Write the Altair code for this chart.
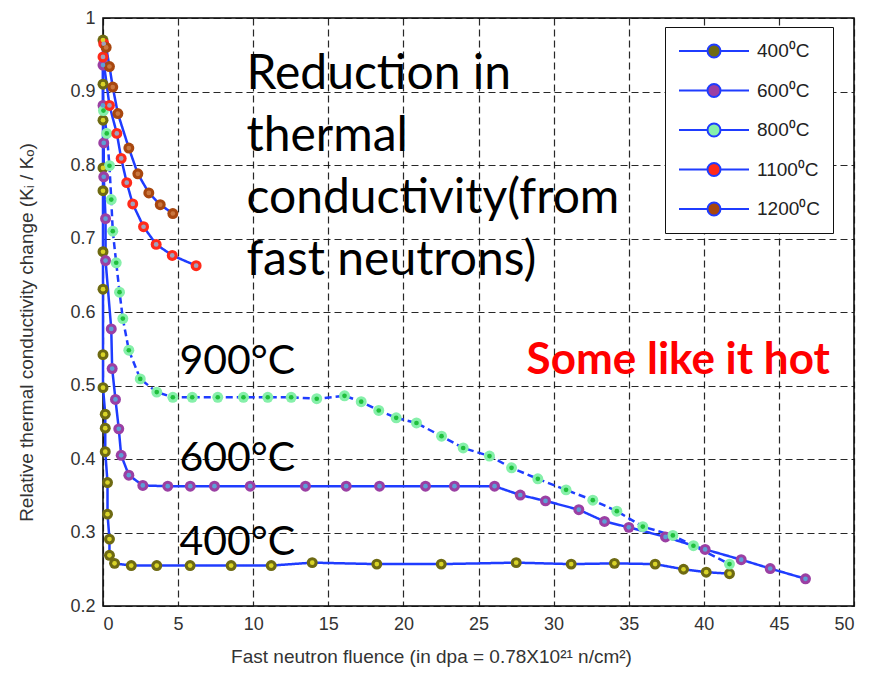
import altair as alt
import pandas as pd

# ---------------- data ----------------
series_names = ["400⁰C", "600⁰C", "800⁰C", "1100⁰C", "1200⁰C"]

s400_x = [0.0, 0.0, 0.0, 0.0, 0.0, 0.0, 0.0, 0.0, 0.0, 0.15, 0.15, 0.15, 0.3, 0.3, 0.43, 0.43, 0.77,
          1.88, 3.58, 5.80, 8.53, 11.20, 13.93, 18.23, 22.52, 27.51, 31.17, 34.05, 36.76, 38.65, 40.16, 41.71]
s400_y = [0.970, 0.910, 0.861, 0.796, 0.765, 0.682, 0.631, 0.542, 0.497, 0.461, 0.442, 0.410, 0.368, 0.325,
          0.291, 0.269, 0.258, 0.255, 0.255, 0.255, 0.255, 0.255, 0.259, 0.257, 0.257, 0.259, 0.257, 0.258,
          0.257, 0.250, 0.246, 0.244]

s600_x = [0.0, 0.0, 0.05, 0.05, 0.17, 0.17, 0.55, 0.61, 0.83, 1.05, 1.21, 1.72, 2.65, 4.31, 5.81, 7.42,
          9.80, 13.48, 16.19, 18.41, 21.47, 23.40, 26.07, 27.78, 29.46, 31.68, 33.39, 35.01, 37.45, 40.09,
          42.49, 44.42, 46.77]
s600_y = [0.936, 0.881, 0.830, 0.784, 0.727, 0.670, 0.577, 0.523, 0.481, 0.441, 0.405, 0.378, 0.364, 0.363,
          0.363, 0.363, 0.363, 0.363, 0.363, 0.363, 0.363, 0.363, 0.363, 0.351, 0.343, 0.331, 0.315, 0.307,
          0.294, 0.277, 0.263, 0.251, 0.237]

s800_x = [0.03, 0.25, 0.43, 0.55, 0.65, 0.88, 1.10, 1.32, 1.72, 2.48, 3.58, 4.65, 5.94, 7.64, 9.35, 10.97,
          12.53, 14.23, 16.08, 17.19, 18.36, 19.52, 20.87, 22.54, 23.98, 25.73, 27.20, 28.95, 30.83, 32.61,
          34.21, 35.94, 37.94, 39.31, 41.71]
s800_y = [0.874, 0.843, 0.799, 0.753, 0.710, 0.667, 0.627, 0.591, 0.548, 0.509, 0.491, 0.484, 0.484, 0.484,
          0.484, 0.484, 0.484, 0.482, 0.486, 0.478, 0.466, 0.456, 0.449, 0.431, 0.415, 0.404, 0.388, 0.373,
          0.358, 0.344, 0.329, 0.308, 0.296, 0.282, 0.257]

s1100_x = [0.05, 0.0, 0.43, 0.92, 1.21, 1.58, 1.98, 2.70, 3.54, 4.61, 6.20]
s1100_y = [0.965, 0.947, 0.881, 0.843, 0.809, 0.776, 0.747, 0.716, 0.692, 0.677, 0.663]

s1200_x = [0.21, 0.43, 0.65, 0.99, 1.72, 2.32, 3.05, 3.81, 4.65]
s1200_y = [0.960, 0.934, 0.906, 0.870, 0.823, 0.788, 0.762, 0.746, 0.734]

edge_colors = ["#6e6a12", "#9b3fa3", "#86f0aa", "#ff2a1a", "#a8470f"]
center_colors = ["#d9d428", "#5c9fd6", "#1fbf3c", "#9fa2bd", "#c9773f"]
dashes = [[1, 0], [1, 0], [7, 4], [1, 0], [1, 0]]

x_ticks = [0, 5, 10, 15, 20, 25, 30, 35, 40, 45, 50]
y_ticks = [0.2, 0.3, 0.4, 0.5, 0.6, 0.7, 0.8, 0.9, 1.0]

rows = []
for name, xs, ys in zip(series_names,
                        [s400_x, s600_x, s800_x, s1100_x, s1200_x],
                        [s400_y, s600_y, s800_y, s1100_y, s1200_y]):
    for i, (xv, yv) in enumerate(zip(xs, ys)):
        rows.append({"series": name, "x": xv, "y": yv, "order": i})
df = pd.DataFrame(rows)

big_note = pd.DataFrame({"x": [9.55], "y": [0.904],
                         "text": ["Reduction in\nthermal\nconductivity(from\nfast neutrons)"]})
temp_notes = pd.DataFrame({"x": [5.09, 5.09, 5.09], "y": [0.516, 0.384, 0.269],
                           "text": ["900°C", "600°C", "400°C"]})
hot = pd.DataFrame({"x": [28.2], "y": [0.516], "text": ["Some like it hot"]})

BLUE = "#1f3cff"

xenc = alt.X("x:Q", scale=alt.Scale(domain=[0, 50], nice=False),
             axis=alt.Axis(values=x_ticks, title="Fast neutron fluence (in dpa = 0.78X10²¹ n/cm²)",
                           titleX=328, titleY=56, titleBaseline="alphabetic", titleAlign="center",
                           labelPadding=9, format="d"))
yenc = alt.Y("y:Q", scale=alt.Scale(domain=[0.2, 1.0], nice=False),
             axis=alt.Axis(values=y_ticks, title="Relative thermal conductivity change (Kᵢ / Kₒ)",
                           titleX=-77, titleY=314, titleBaseline="middle", titleAlign="center",
                           labelPadding=8,
                           labelExpr="datum.value == 1 ? '1' : format(datum.value, '.1f')"))

lines = alt.Chart(df).mark_line(color=BLUE, strokeWidth=2.5).encode(
    x=xenc, y=yenc, detail="series:N", order="order:Q",
    strokeDash=alt.StrokeDash("series:N", scale=alt.Scale(domain=series_names, range=dashes), legend=None),
)

legend_path = "M-1,0H1.85M3.15,0H6M1.85,0A0.65,0.65 0 1,1 3.15,0A0.65,0.65 0 1,1 1.85,0Z"

outer = alt.Chart(df).mark_point(shape="circle", filled=True, size=120, opacity=1).encode(
    x="x:Q", y="y:Q",
    fill=alt.Fill("series:N", scale=alt.Scale(domain=series_names, range=edge_colors),
                  legend=alt.Legend(title=None, orient="none", legendX=562, legendY=9,
                                    symbolType=legend_path, symbolSize=400,
                                    symbolStrokeColor=BLUE, symbolStrokeWidth=2,
                                    labelOffset=57, rowPadding=17.5, padding=13,
                                    labelFont="Liberation Sans", labelFontSize=19,
                                    labelColor="#222", strokeColor="#111", fillColor="white")),
)
inner = alt.Chart(df).mark_point(shape="circle", filled=True, size=22, opacity=1).encode(
    x="x:Q", y="y:Q",
    fill=alt.Fill("series:N", scale=alt.Scale(domain=series_names, range=center_colors), legend=None),
)

big_text = alt.Chart(big_note).mark_text(align="left", baseline="alphabetic", font="Lato",
                                         fontSize=48, color="black", lineBreak="\n",
                                         lineHeight=62).encode(x="x:Q", y="y:Q", text="text:N")
temp_text = alt.Chart(temp_notes).mark_text(align="left", baseline="alphabetic", font="Lato",
                                            fontSize=41, color="black").encode(x="x:Q", y="y:Q", text="text:N")
hot_text = alt.Chart(hot).mark_text(align="left", baseline="alphabetic", font="Lato", fontWeight="bold",
                                    fontSize=44, color="#ff0000").encode(x="x:Q", y="y:Q", text="text:N")

chart = alt.layer(lines, outer, inner, big_text, temp_text, hot_text).resolve_scale(
    fill="independent"
).resolve_legend(fill="independent").properties(
    width=751, height=588,
    autosize=alt.AutoSizeParams(type="none"),
    padding={"left": 95, "top": 10, "right": 15, "bottom": 62},
).configure_view(
    stroke="black", strokeWidth=1.5
).configure_axis(
    grid=True, gridColor="#111", gridDash=[7, 4], gridWidth=1.2, gridOpacity=0.9,
    domain=False, tickSize=0,
    labelFont="Liberation Sans", labelFontSize=18, labelColor="#333",
    titleFont="Liberation Sans", titleFontSize=19, titleColor="#333", titleFontWeight="normal",
)

chart.save("out.html", embed_options={"renderer": "svg", "actions": False})
